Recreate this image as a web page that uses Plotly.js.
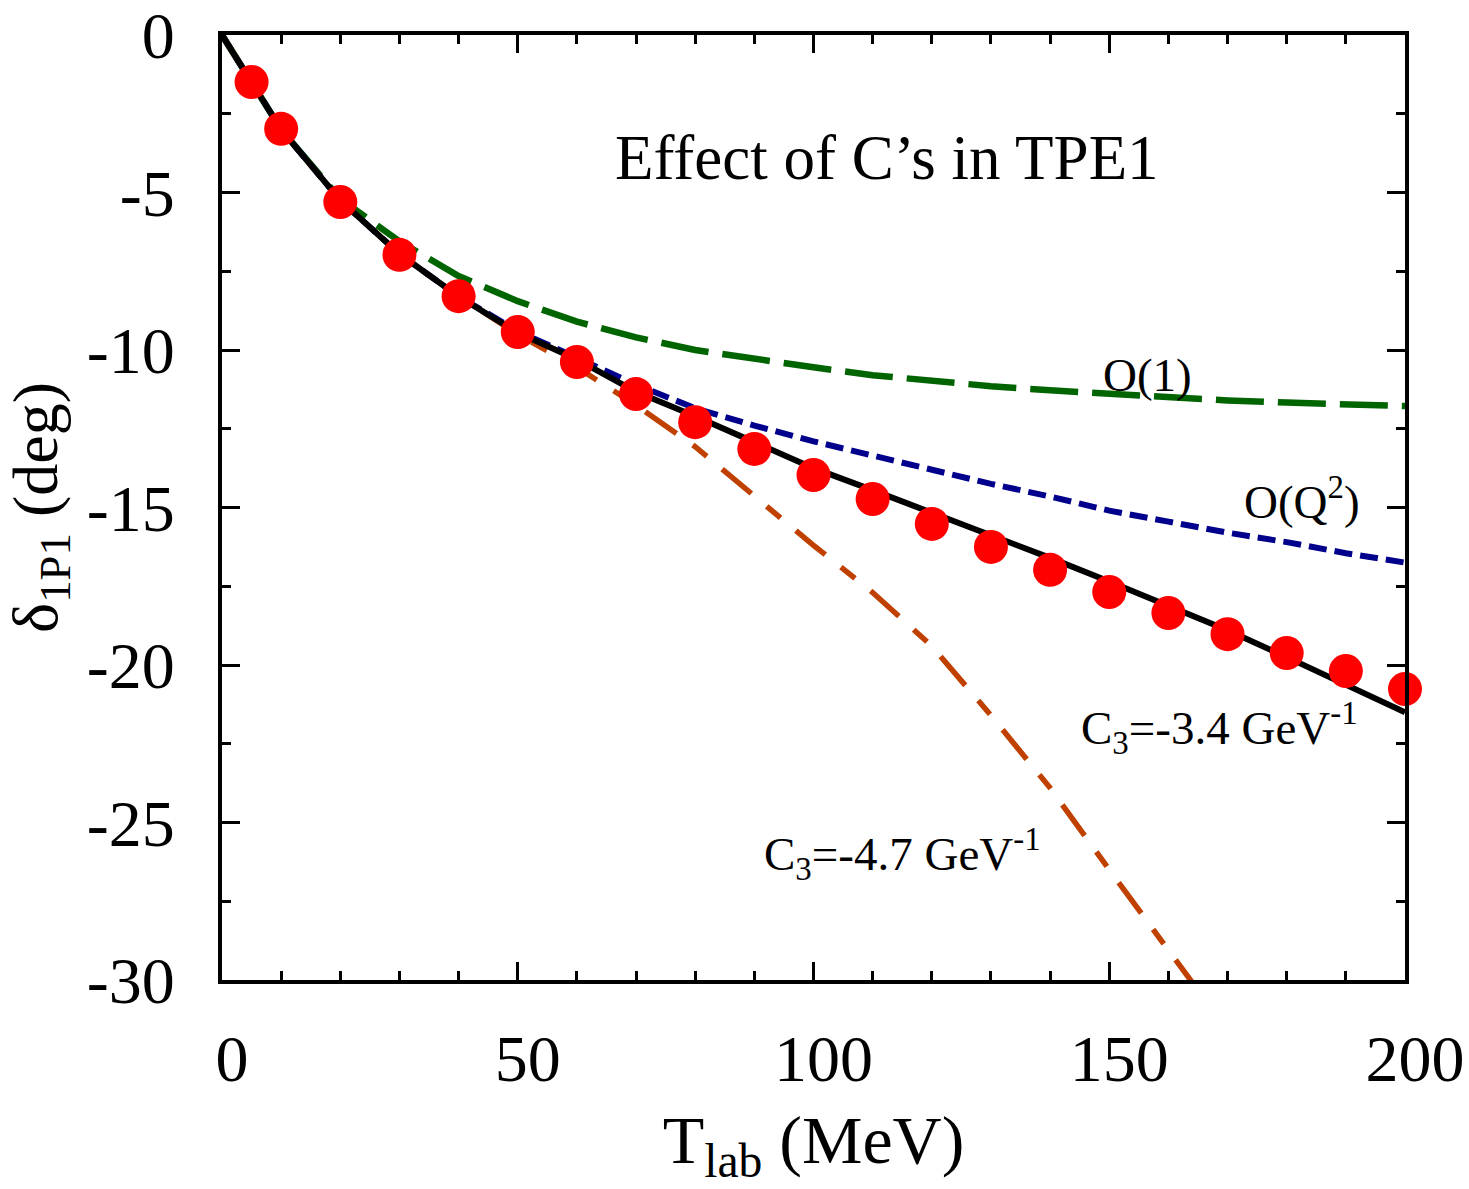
<!DOCTYPE html>
<html>
<head>
<meta charset="utf-8">
<script src="https://cdn.plot.ly/plotly-3.0.1.min.js"></script>
<style>html,body{margin:0;padding:0;background:#fff;}</style>
</head>
<body>
<div id="chart" style="width:1469px;height:1189px;"></div>
<script>
// Curves: T_lab (MeV) grid
const tCurve = [0,5,10,20,30,40,50,60,70,80,90,100,110,120,130,140,150,160,170,180,190,200];
const tOrange = [0,5,10,20,30,40,50,60,70,80,90,100,110,120,130,140,150,160,170];
// C3 = -3.4 GeV^-1 (solid black)
const c3a = [0,-1.5,-3.0,-5.25,-6.95,-8.3,-9.45,-10.3,-11.33,-12.1,-12.95,-13.75,-14.45,-15.15,-15.87,-16.6,-17.35,-18.1,-18.9,-19.75,-20.6,-21.5];
// O(1) (green long dash)
const o1 = [0,-1.5,-3.0,-5.2,-6.55,-7.65,-8.45,-9.1,-9.6,-10.0,-10.3,-10.55,-10.8,-11.0,-11.15,-11.28,-11.4,-11.5,-11.6,-11.67,-11.72,-11.78];
// O(Q^2) (blue short dash)
const oq2 = [0,-1.5,-3.0,-5.25,-6.95,-8.3,-9.4,-10.25,-11.1,-11.85,-12.4,-12.9,-13.35,-13.8,-14.25,-14.65,-15.1,-15.45,-15.8,-16.1,-16.45,-16.75];
// C3 = -4.7 GeV^-1 (orange dash)
const c3b = [0,-1.5,-3.0,-5.25,-6.95,-8.3,-9.5,-10.55,-11.75,-13.07,-14.65,-16.2,-17.7,-19.4,-21.6,-23.9,-26.5,-29.0,-31.6];
// Data points (red circles)
const tData = [5,10,20,30,40,50,60,70,80,90,100,110,120,130,140,150,160,170,180,190,200];
const dData = [-1.49,-2.98,-5.30,-6.98,-8.29,-9.43,-10.38,-11.40,-12.29,-13.14,-13.97,-14.73,-15.52,-16.25,-16.98,-17.68,-18.35,-19.02,-19.62,-20.19,-20.76];

const xTicks = [0,50,100,150,200];
const yTicks = [0,-5,-10,-15,-20,-25,-30];

const FONT = "Liberation Serif, Times New Roman, serif";

const traces = [
  {x:tCurve, y:o1, mode:'lines', line:{color:'#006400', width:6.5, dash:'48px,14px'}, name:'O(1)'},
  {x:tCurve, y:oq2, mode:'lines', line:{color:'#00008c', width:6, dash:'18px,8px'}, name:'O(Q2)'},
  {x:tOrange, y:c3b, mode:'lines', line:{color:'#c04000', width:5.5, dash:'38px,20px,18px,20px'}, name:'C3=-4.7'},
  {x:tCurve, y:c3a, mode:'lines', line:{color:'#000000', width:6}, name:'C3=-3.4'},
  {x:tData, y:dData, mode:'markers', marker:{color:'#ff0000', size:34, line:{width:0}}, cliponaxis:false, name:'data'}
];

const axisCommon = {
  showline:true, linecolor:'black', linewidth:4, mirror:'ticks',
  ticks:'inside', ticklen:18, tickwidth:3, tickcolor:'black',
  showgrid:false, zeroline:false, ticklabeloverflow:'allow',
  tickfont:{family:FONT, size:66, color:'black'}
};

const layout = {
  width:1469, height:1189,
  margin:{l:222, r:64, t:35, b:209},
  paper_bgcolor:'white', plot_bgcolor:'white',
  showlegend:false,
  xaxis: Object.assign({}, axisCommon, {
    range:[0,200], tickmode:'array', tickvals:xTicks, ticktext:xTicks.map(String),
    minor:{dtick:10, ticks:'inside', ticklen:9, tickwidth:3, tickcolor:'black'},
    ticklabelstandoff:18, ticklabelshift:10,
    title:{text:'T<sub>lab</sub> (MeV)', font:{family:FONT, size:68, color:'black'}, standoff:22}
  }),
  yaxis: Object.assign({}, axisCommon, {
    range:[-30,0], tickmode:'array', tickvals:yTicks, ticktext:yTicks.map(String),
    minor:{dtick:2.5, ticks:'inside', ticklen:9, tickwidth:3, tickcolor:'black'},
    ticklabelstandoff:30,
    title:{text:'δ<sub>1P1</sub> (deg)', font:{family:FONT, size:64, color:'black'}, standoff:10}
  }),
  annotations:[
    {x:112.4, y:-3.9, xref:'x', yref:'y', text:"Effect of C’s in TPE1", showarrow:false, font:{family:FONT, size:63, color:'black'}},
    {x:156.5, y:-10.8, xref:'x', yref:'y', text:'O(1)', showarrow:false, font:{family:FONT, size:47, color:'black'}},
    {x:182.6, y:-14.7, xref:'x', yref:'y', text:'O(Q<sup>2</sup>)', showarrow:false, font:{family:FONT, size:47, color:'black'}},
    {x:168.7, y:-22.0, xref:'x', yref:'y', text:'C<sub>3</sub>=-3.4 GeV<sup>-1</sup>', showarrow:false, font:{family:FONT, size:47, color:'black'}},
    {x:115.1, y:-26.0, xref:'x', yref:'y', text:'C<sub>3</sub>=-4.7 GeV<sup>-1</sup>', showarrow:false, font:{family:FONT, size:47, color:'black'}}
  ]
};

Plotly.newPlot('chart', traces, layout, {displayModeBar:false, staticPlot:true});
</script>
</body>
</html>
